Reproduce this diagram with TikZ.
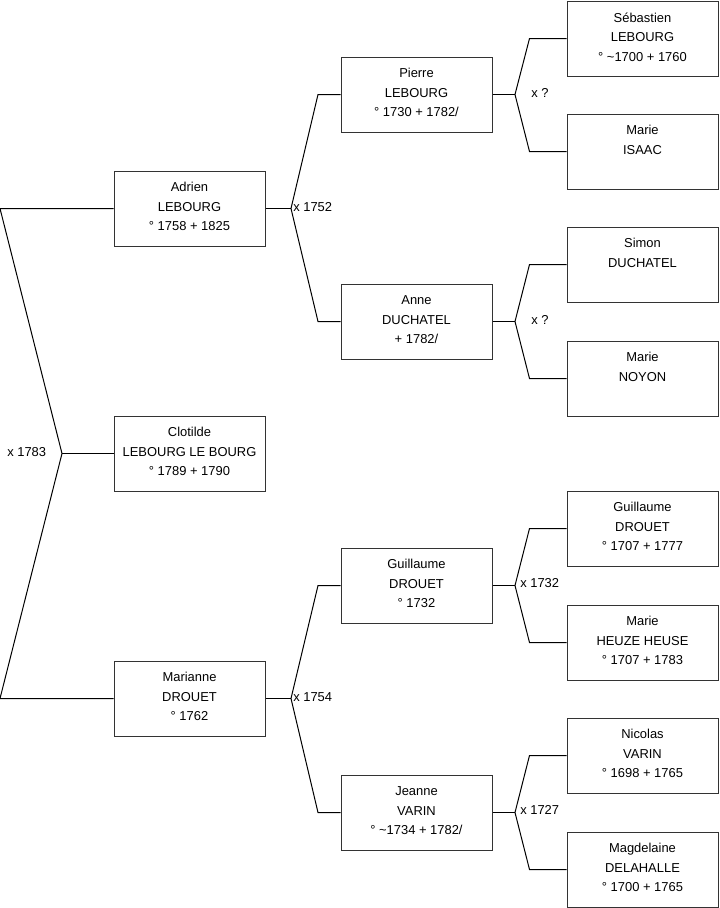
\documentclass[tikz,border=0pt]{standalone}
\usepackage{fontspec}
\setmainfont{Liberation Sans}
\newcommand\lift{\rule[-2.6pt]{0pt}{2.6pt}}
\begin{document}
\begin{tikzpicture}[x=0.75pt,y=-0.75pt,
  person/.style={draw=black!80,line width=0.75pt,fill=white,minimum width=113.25pt,minimum height=56.25pt,align=center,inner sep=0pt,font=\fontsize{9.7}{14.6}\selectfont},
  link/.style={draw=black,line width=0.75pt},
  wed/.style={anchor=west,inner sep=0pt,font=\fontsize{9.7}{11}\selectfont}]
\useasboundingbox (0,0) rectangle (719,908);
% column 1
\node[person] (adrien) at (189.5,208.5) {Adrien\\LEBOURG\\° 1758 + 1825\lift};
\node[person] (clotilde) at (189.5,453.5) {Clotilde\\LEBOURG LE BOURG\\° 1789 + 1790\lift};
\node[person] (marianne) at (189.5,698.5) {Marianne\\DROUET\\° 1762\lift};
% column 2
\node[person] (pierre) at (416.5,94.5) {Pierre\\LEBOURG\\° 1730 + 1782/\lift};
\node[person] (anne) at (416.5,321.5) {Anne\\DUCHATEL\\+ 1782/\lift};
\node[person] (guillaume) at (416.5,585.5) {Guillaume\\DROUET\\° 1732\lift};
\node[person] (jeanne) at (416.5,812.5) {Jeanne\\VARIN\\° \textasciitilde 1734 + 1782/\lift};
% column 3
\node[person] (sebastien) at (642.5,38.5) {Sébastien\\LEBOURG\\° \textasciitilde 1700 + 1760\lift};
\node[person] (marieisaac) at (642.5,151.5) {Marie\\ISAAC\\\mbox{}\lift};
\node[person] (simon) at (642.5,264.5) {Simon\\DUCHATEL\\\mbox{}\lift};
\node[person] (marienoyon) at (642.5,378.5) {Marie\\NOYON\\\mbox{}\lift};
\node[person] (guillaumed) at (642.5,528.5) {Guillaume\\DROUET\\° 1707 + 1777\lift};
\node[person] (marieheuze) at (642.5,642.5) {Marie\\HEUZE HEUSE\\° 1707 + 1783\lift};
\node[person] (nicolas) at (642.5,755.5) {Nicolas\\VARIN\\° 1698 + 1765\lift};
\node[person] (magdelaine) at (642.5,869.5) {Magdelaine\\DELAHALLE\\° 1700 + 1765\lift};
% root junction
\coordinate (r1) at (0,208.5);
\coordinate (rj) at (62,453.5);
\coordinate (r2) at (0,698.5);
\draw[link] (adrien.west) -- (r1) -- (rj) -- (r2) -- (marianne.west);
\draw[link] (rj) -- (clotilde.west);
\node[wed] (w0) at (7,452) {x 1783};
% Adrien's parents
\coordinate (aj) at (291,208.5);
\coordinate (a1) at (318,94.5);
\coordinate (a2) at (318,321.5);
\draw[link] (adrien.east) -- (aj);
\draw[link] (pierre.west) -- (a1) -- (aj) -- (a2) -- (anne.west);
\node[wed] (w1) at (293,207) {x 1752};
% Marianne's parents
\coordinate (mj) at (291,698.5);
\coordinate (m1) at (318,585.5);
\coordinate (m2) at (318,812.5);
\draw[link] (marianne.east) -- (mj);
\draw[link] (guillaume.west) -- (m1) -- (mj) -- (m2) -- (jeanne.west);
\node[wed] (w2) at (293,697) {x 1754};
% Pierre's parents
\coordinate (pj) at (515,94.5);
\coordinate (p1) at (529.5,38.5);
\coordinate (p2) at (529.5,151.5);
\draw[link] (pierre.east) -- (pj);
\draw[link] (sebastien.west) -- (p1) -- (pj) -- (p2) -- (marieisaac.west);
\node[wed] (w3) at (531,93) {x ?};
% Anne's parents
\coordinate (nj) at (515,321.5);
\coordinate (n1) at (529.5,264.5);
\coordinate (n2) at (529.5,378.5);
\draw[link] (anne.east) -- (nj);
\draw[link] (simon.west) -- (n1) -- (nj) -- (n2) -- (marienoyon.west);
\node[wed] (w4) at (531,320) {x ?};
% Guillaume's parents
\coordinate (gj) at (515,585.5);
\coordinate (g1) at (529.5,528.5);
\coordinate (g2) at (529.5,642.5);
\draw[link] (guillaume.east) -- (gj);
\draw[link] (guillaumed.west) -- (g1) -- (gj) -- (g2) -- (marieheuze.west);
\node[wed] (w5) at (520,583) {x 1732};
% Jeanne's parents
\coordinate (jj) at (515,812.5);
\coordinate (j1) at (529.5,755.5);
\coordinate (j2) at (529.5,869.5);
\draw[link] (jeanne.east) -- (jj);
\draw[link] (nicolas.west) -- (j1) -- (jj) -- (j2) -- (magdelaine.west);
\node[wed] (w6) at (520,810) {x 1727};
\end{tikzpicture}
\end{document}
